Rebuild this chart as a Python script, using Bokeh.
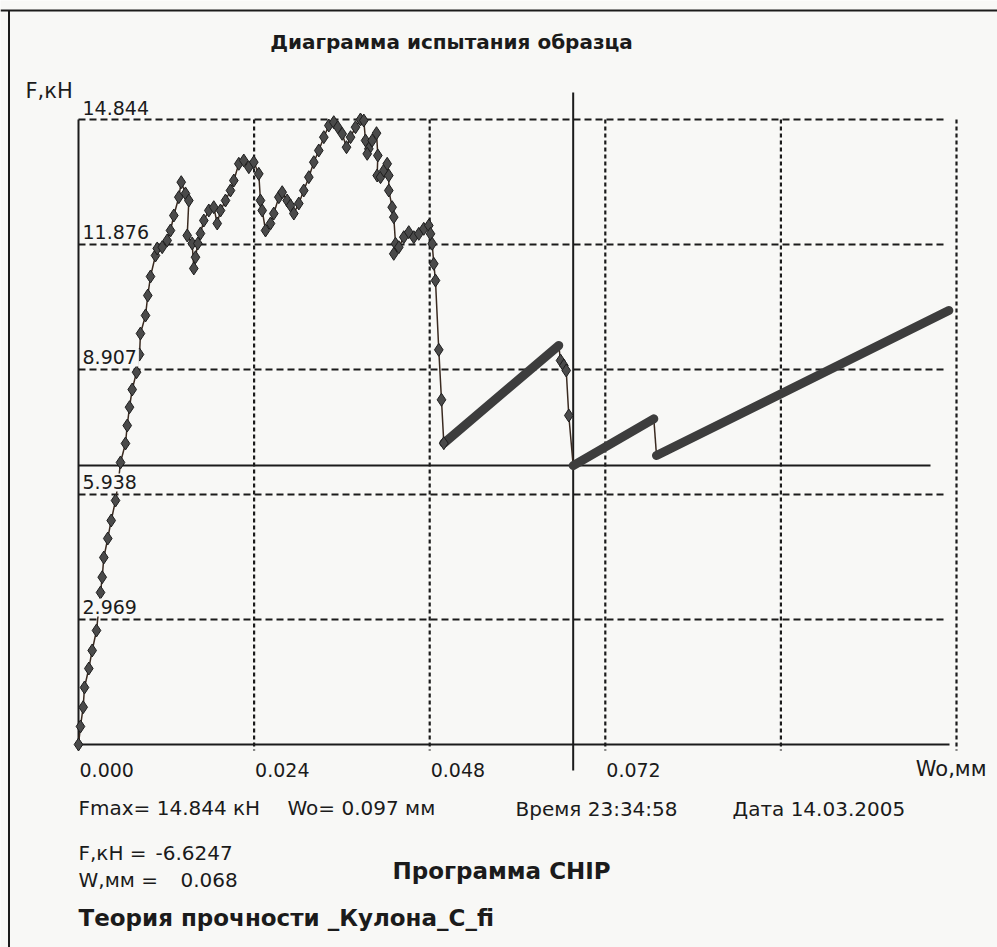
from bokeh.plotting import figure
from bokeh.models import Range1d
from bokeh.core.properties import value
from bokeh.embed import file_html
from bokeh.resources import INLINE

# ---------------- data ----------------
# initial curve with point markers: displacement Wo [mm], force F [kN]
curve_w = [0.0, 0.00027, 0.00064, 0.00082, 0.00141, 0.00187, 0.00246, 0.00301, 0.00324, 0.00346,
           0.00400, 0.00447, 0.00506, 0.00547, 0.00574, 0.00642, 0.00666, 0.00697, 0.00734, 0.00793,
           0.00834, 0.00847, 0.00916, 0.00947, 0.00984, 0.01052, 0.01076, 0.01144, 0.01212, 0.01257,
           0.01303, 0.01371, 0.01404, 0.01462, 0.01508, 0.01486, 0.01554, 0.01576, 0.01599, 0.01631,
           0.01667, 0.01713, 0.01781, 0.01849, 0.01896, 0.01941, 0.02009, 0.02077, 0.02123, 0.02191,
           0.02259, 0.02328, 0.02396, 0.02464, 0.02487, 0.02511, 0.02556, 0.02624, 0.02669, 0.02738,
           0.02784, 0.02852, 0.02898, 0.02943, 0.03011, 0.03079, 0.03148, 0.03216, 0.03284, 0.03353,
           0.03421, 0.03489, 0.03544, 0.03604, 0.03663, 0.03718, 0.03786, 0.03854, 0.03899, 0.03923,
           0.03968, 0.03946, 0.04014, 0.04073, 0.04091, 0.04082, 0.04128, 0.04173, 0.04219, 0.04241,
           0.04241, 0.04287, 0.04309, 0.04333, 0.04309, 0.04378, 0.04446, 0.04514, 0.04583, 0.04651,
           0.04719, 0.04788, 0.04811, 0.04834, 0.04856, 0.04879, 0.04924, 0.04961, 0.04993]
curve_f = [0.0, 0.428, 0.886, 1.354, 1.805, 2.233, 2.708, 3.610, 3.973, 4.441,
           4.893, 5.320, 5.795, 6.270, 6.698, 7.149, 7.576, 8.011, 8.431, 8.842,
           9.263, 9.761, 10.189, 10.664, 11.115, 11.614, 11.781, 11.811, 11.971, 12.208,
           12.564, 12.999, 13.355, 13.087, 12.920, 12.089, 11.900, 11.306, 11.573, 11.900,
           12.137, 12.445, 12.683, 12.761, 12.374, 12.683, 12.920, 13.158, 13.395, 13.792,
           13.870, 13.711, 13.830, 13.554, 12.920, 12.683, 12.208, 12.374, 12.611, 12.999,
           13.117, 12.920, 12.801, 12.611, 12.849, 13.158, 13.474, 13.830, 14.108, 14.424,
           14.701, 14.780, 14.661, 14.504, 14.186, 14.424, 14.661, 14.844, 14.820, 14.345,
           14.148, 14.029, 14.345, 14.519, 13.989, 13.514, 13.474, 13.633, 13.792, 13.514,
           13.158, 12.761, 12.524, 11.892, 11.654, 11.811, 12.049, 12.168, 12.049, 12.129,
           12.248, 12.327, 12.129, 11.892, 11.417, 11.020, 9.374, 8.187, 7.156]

# dense reloading branches (start / end of each)
saw_w0 = [0.04993, 0.06761, 0.07900]
saw_f0 = [7.156, 6.625, 6.864]
saw_w1 = [0.06564, 0.07863, 0.11895]
saw_f1 = [9.477, 7.735, 10.308]

# drop after the first reloading branch (markers)
drop_w = [0.06564, 0.06588, 0.06633, 0.06666, 0.06701, 0.06761]
drop_f = [9.477, 9.120, 9.002, 8.883, 7.814, 6.625]
# drop after the second branch
drop2_w = [0.07863, 0.07900]
drop2_f = [7.735, 6.864]

# cursor
cursor_w = 0.06761
cursor_f = 6.625

x_ticks = [0.000, 0.024, 0.048, 0.072, 0.096, 0.120]
x_tick_labels = ["0.000", "0.024", "0.048", "0.072"]
y_ticks = [0.0, 2.969, 5.938, 8.907, 11.876, 14.844]
y_tick_labels = ["", "2.969", "5.938", "8.907", "11.876", "14.844"]

title = "Диаграмма испытания образца"
y_name = "F,кН"
x_name = "Wo,мм"
info_fmax = "Fmax= 14.844 кН"
info_wo = "Wo= 0.097 мм"
info_time = "Время 23:34:58"
info_date = "Дата 14.03.2005"
cur_f_name, cur_f_val = "F,кН =", "-6.6247"
cur_w_name, cur_w_val = "W,мм =", "0.068"
program = "Программа CHIP"
theory = "Теория прочности _Кулона_C_fi"

# ---------------- layout ----------------
CW, CH = 997, 947          # canvas (page has no margin)
PL, PR, PT, PB = 78, 956, 119, 744   # plot box in canvas pixels
XMAX, YMAX = x_ticks[-1], y_ticks[-1]
sx = XMAX / (PR - PL)
sy = YMAX / (PB - PT)

def W(px):   # canvas pixel -> data x
    return (px - PL) * sx

def F(py):   # canvas pixel -> data y
    return (PB - py) * sy

INK = "#1b1b1b"
BG = "#f8f8f6"
FONT = value("DejaVu Sans")

p = figure(width=CW, height=CH, output_backend="svg", toolbar_location=None,
           x_range=Range1d(W(0), W(CW)), y_range=Range1d(F(CH), F(0)),
           x_axis_location=None, y_axis_location=None, min_border=0)
p.outline_line_color = None
p.background_fill_color = BG
p.border_fill_color = BG
p.grid.visible = False

# page frame (scan border)
p.segment(x0=[W(8.5)], y0=[F(10)], x1=[W(8.5)], y1=[F(960)], line_color=INK, line_width=2)
p.segment(x0=[W(0)], y0=[F(10)], x1=[W(1000)], y1=[F(10)], line_color=INK, line_width=2)

# grid
p.segment(x0=[0] * 5, y0=y_ticks[1:], x1=[W(945)] * 5, y1=y_ticks[1:],
          line_color=INK, line_width=2, line_dash="7 4")
p.segment(x0=x_ticks[1:], y0=[YMAX] * 5, x1=x_ticks[1:], y1=[F(750)] * 5,
          line_color=INK, line_width=2.2, line_dash="4 3")
# axes
p.segment(x0=[0], y0=[0], x1=[0], y1=[YMAX], line_color=INK, line_width=2)
p.segment(x0=[0], y0=[0], x1=[W(949)], y1=[0], line_color=INK, line_width=2)
# cursor cross
p.segment(x0=[cursor_w], y0=[F(92)], x1=[cursor_w], y1=[F(770)], line_color=INK, line_width=2)
p.segment(x0=[0], y0=[cursor_f], x1=[W(930)], y1=[cursor_f], line_color=INK, line_width=2)

# curve
LINE = "#3a2a20"
p.line(curve_w, curve_f, line_color=LINE, line_width=1.5)
p.line(drop_w, drop_f, line_color=LINE, line_width=1.5)
p.line(drop2_w, drop2_f, line_color=LINE, line_width=1.5)
p.segment(x0=saw_w0, y0=saw_f0, x1=saw_w1, y1=saw_f1, line_color="#3d3d3d",
          line_width=9, line_cap="round")
p.scatter(curve_w, curve_f, marker="diamond", size=13, fill_color="#4a4a4a",
          line_color="#1e1e1e", line_width=1)
p.scatter(drop_w[1:-1], drop_f[1:-1], marker="diamond", size=13, fill_color="#4a4a4a",
          line_color="#1e1e1e", line_width=1)

# tick labels
p.text(x=x_ticks[:4], y=[0] * 4, text=x_tick_labels, text_font=FONT, text_font_size="19px",
       text_color=INK, text_align="left", text_baseline="middle", x_offset=1, y_offset=25)
p.text(x=[0] * 5, y=y_ticks[1:], text=y_tick_labels[1:], text_font=FONT, text_font_size="19px",
       text_color=INK, text_align="left", text_baseline="bottom", x_offset=2, y_offset=-3,
       background_fill_color=BG, padding=2)
p.text(x=[W(986)], y=[F(768)], text=[x_name], text_font=FONT, text_font_size="21px",
       text_color=INK, text_align="right", text_baseline="middle")
p.text(x=[W(25)], y=[F(90)], text=[y_name], text_font=FONT, text_font_size="21px",
       text_color=INK, text_align="left", text_baseline="middle")

# title and footer
p.text(x=[W(451)], y=[F(41)], text=[title], text_font=FONT, text_font_size="20px",
       text_font_style="bold", text_color=INK, text_align="center", text_baseline="middle")
plain = [(78, 807, info_fmax), (287, 807, info_wo), (515, 808, info_time), (732, 808, info_date),
         (78, 852, cur_f_name), (155, 852, cur_f_val), (78, 879, cur_w_name), (180, 879, cur_w_val)]
p.text(x=[W(a) for a, b, c in plain], y=[F(b) for a, b, c in plain], text=[c for a, b, c in plain],
       text_font=FONT, text_font_size="20px", text_color=INK, text_align="left",
       text_baseline="middle")
p.text(x=[W(392), W(78)], y=[F(870), F(917)], text=[program, theory], text_font=FONT,
       text_font_size="23px", text_font_style="bold", text_color=INK, text_align="left",
       text_baseline="middle")

open("out.html", "w").write(file_html(p, INLINE))
